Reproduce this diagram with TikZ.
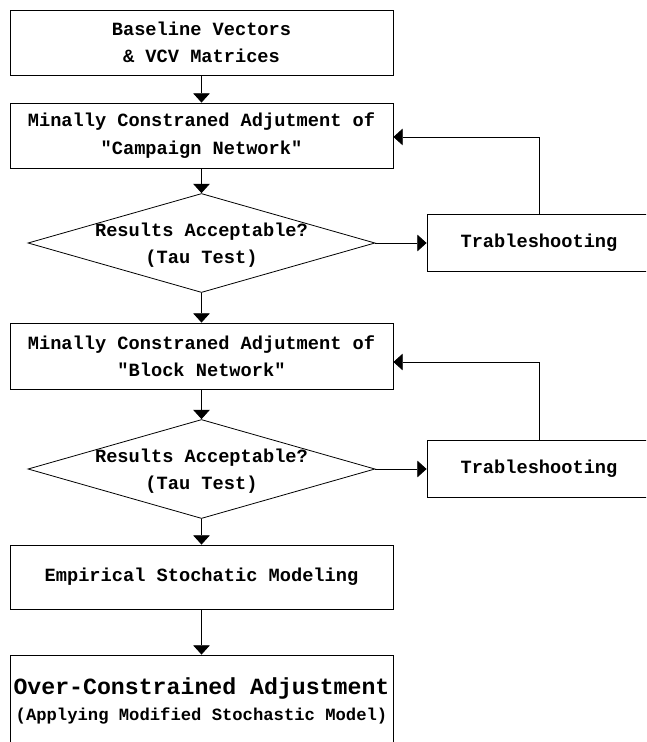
\documentclass[tikz,border=0pt]{standalone}
\usepackage{fontspec}
\setmonofont{Liberation Mono}
\usepackage{tikz}
\usetikzlibrary{shapes.geometric,arrows.meta}

\begin{document}
\begin{tikzpicture}[x=0.75pt, y=-0.75pt, line width=0.6pt,
  >={Triangle[length=7pt,width=12.5pt]},
  boxfont/.style={font=\ttfamily\bfseries\fontsize{14}{20.5}\selectfont},
  box/.style={draw, rectangle, boxfont, align=center, inner sep=0pt, minimum width=287.25pt},
  fixbox/.style={draw, rectangle, boxfont, inner sep=0pt, minimum width=168pt, minimum height=42.75pt},
  dia/.style={draw, diamond, inner sep=0pt, minimum width=260.25pt, minimum height=74.25pt},
  diatext/.style={boxfont, align=center, inner sep=0pt}]
\useasboundingbox (0,0) rectangle (646,742);
\clip (0,0) rectangle (646,742);

\node[box, minimum height=48.75pt] (base) at (201.5,42.5) {Baseline Vectors\\\& VCV Matrices};
\node[box, minimum height=48.75pt] (camp) at (201.5,135.5) {Minally Constraned Adjutment of\\"Campaign Network"};
\node[dia] (tau1) at (201.5,243) {};
\node[diatext] (ask1) at (201.5,245) {Results Acceptable?\\(Tau Test)};
\node[fixbox] (fix1) at (539,243) {Trableshooting};

\node[box, minimum height=49.5pt] (blk) at (201.5,356) {Minally Constraned Adjutment of\\"Block Network"};
\node[dia] (tau2) at (201.5,469) {};
\node[diatext] (ask2) at (201.5,471) {Results Acceptable?\\(Tau Test)};
\node[fixbox] (fix2) at (539,469) {Trableshooting};

\node[box, minimum height=48pt] (emp) at (201.5,577) {Empirical Stochatic Modeling};
\node[box, minimum height=69pt, font=\ttfamily\bfseries\fontsize{17.4}{19.5}\selectfont] (over) at (201.5,701)
  {Over-Constrained Adjustment\\{\fontsize{12.9}{15}\selectfont (Applying Modified Stochastic Model)}};

\draw[->] (base) -- (camp);
\draw[->] (camp) -- (tau1);
\draw[->] (tau1) -- (fix1);
\draw[->] (fix1.north) |- ([yshift=-1.1pt]camp.east);
\draw[->] (tau1) -- (blk);
\draw[->] (blk) -- (tau2);
\draw[->] (tau2) -- (fix2);
\draw[->] (fix2.north) |- ([yshift=-4.5pt]blk.east);
\draw[->] (tau2) -- (emp);
\draw[->] (emp) -- (over);
\end{tikzpicture}
\end{document}
